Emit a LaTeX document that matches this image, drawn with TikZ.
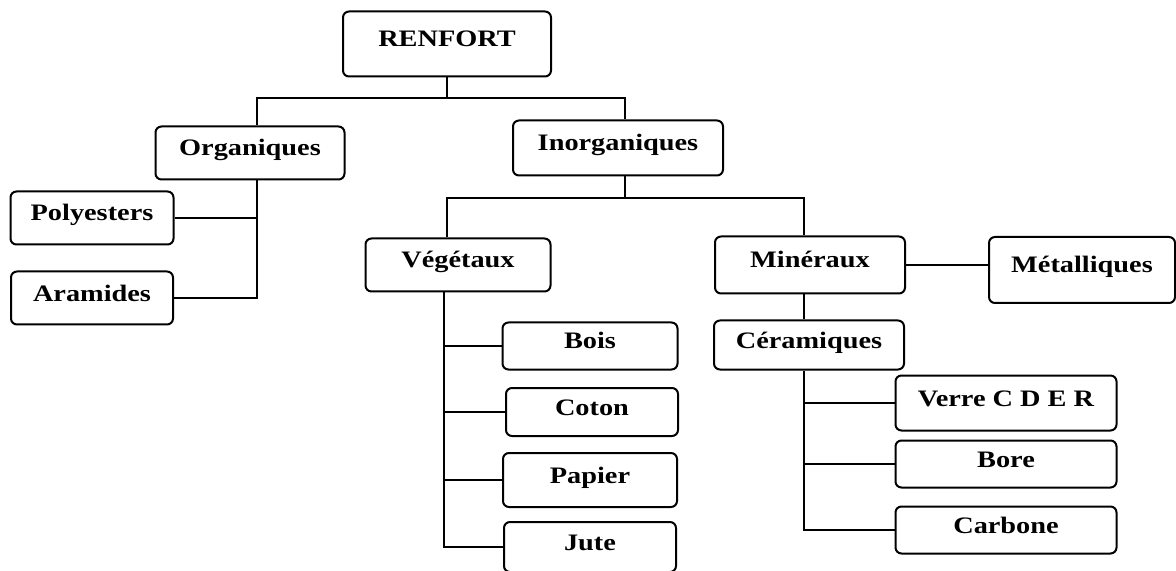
\documentclass[tikz,border=0pt]{standalone}
\usepackage{fontspec}
\setmainfont{Liberation Serif}
\usepackage{graphicx}
\newcommand{\wtxt}[1]{\scalebox{1.2}[1]{#1}}

\begin{document}
\begin{tikzpicture}[x=0.5pt,y=-0.5pt]
\tikzstyle{main}=[rectangle, rounded corners=3pt, draw=black, line width=1pt, inner sep=0pt, font=\bfseries\fontsize{11.8}{13}\selectfont, text height=0.8em, text depth=0.5em]
\tikzstyle{connect}=[line width=0.8pt]
  \useasboundingbox (0,0) rectangle (1176,571);
  % top level
  \node[main, minimum width=104pt, minimum height=32.5pt] (renfort) at (447,44) {\wtxt{RENFORT}};
  \node[main, minimum width=94.5pt, minimum height=26.5pt] (organiques) at (250,153) {\wtxt{Organiques}};
  \node[main, minimum width=105pt, minimum height=27.5pt] (inorganiques) at (618,148) {\wtxt{Inorganiques}};
  % organiques
  \node[main, minimum width=81.5pt, minimum height=26.5pt] (polyesters) at (92,218) {\wtxt{Polyesters}};
  \node[main, minimum width=81pt, minimum height=26.5pt] (aramides) at (92,298) {\wtxt{Aramides}};
  % inorganiques
  \node[main, minimum width=92.5pt, minimum height=26.5pt] (vegetaux) at (458,265) {\wtxt{Végétaux}};
  \node[main, minimum width=95pt, minimum height=28.5pt] (mineraux) at (810,265) {\wtxt{Minéraux}};
  \node[main, minimum width=93pt, minimum height=33pt] (metalliques) at (1082,270) {\wtxt{Métalliques}};
  \node[main, minimum width=95pt, minimum height=24.5pt] (ceramiques) at (809,345) {\wtxt{Céramiques}};
  % vegetaux
  \node[main, minimum width=87.5pt, minimum height=23.5pt] (bois) at (590,346) {\wtxt{Bois}};
  \node[main, minimum width=86pt, minimum height=24pt] (coton) at (592,412) {\wtxt{Coton}};
  \node[main, minimum width=87pt, minimum height=27pt] (papier) at (590,480) {\wtxt{Papier}};
  \node[main, minimum width=86pt, minimum height=25pt] (jute) at (590,547) {\wtxt{Jute}};
  % ceramiques
  \node[main, minimum width=110.5pt, minimum height=27.5pt] (verre) at (1006,403) {\wtxt{Verre C D E R}};
  \node[main, minimum width=110.5pt, minimum height=23.5pt] (bore) at (1006,464) {\wtxt{Bore}};
  \node[main, minimum width=110.5pt, minimum height=23.5pt] (carbone) at (1006,530) {\wtxt{Carbone}};

  \coordinate (rj) at (447,98);
  \coordinate (ij) at (625,198);
  \draw[connect] (renfort.south) -- (rj);
  \draw[connect] ([xshift=3.5pt]organiques.north) |- (rj) -| ([xshift=3.5pt]inorganiques.north);
  \draw[connect] ([xshift=3.5pt]organiques.south) coordinate (ot) |- (aramides.east);
  \draw[connect] (polyesters.east) -- (polyesters.east -| ot);
  \draw[connect] ([xshift=3.5pt]inorganiques.south) -- (ij);
  \draw[connect] ([xshift=-5.5pt]vegetaux.north) |- (ij) -| ([xshift=-3pt]mineraux.north);
  \draw[connect] ([xshift=-7pt]vegetaux.south) coordinate (vt) |- (jute.west);
  \foreach \n in {bois,coton,papier}
    \draw[connect] (\n.west) -- (\n.west -| vt);
  \draw[connect] (mineraux.east) -- (mineraux.east -| metalliques.west);
  \draw[connect] ([xshift=-3pt]mineraux.south) -- ([xshift=-2.5pt]ceramiques.north);
  \draw[connect] ([xshift=-2.5pt]ceramiques.south) coordinate (ct) |- (carbone.west);
  \foreach \n in {verre,bore}
    \draw[connect] (\n.west) -- (\n.west -| ct);
\end{tikzpicture}
\end{document}
